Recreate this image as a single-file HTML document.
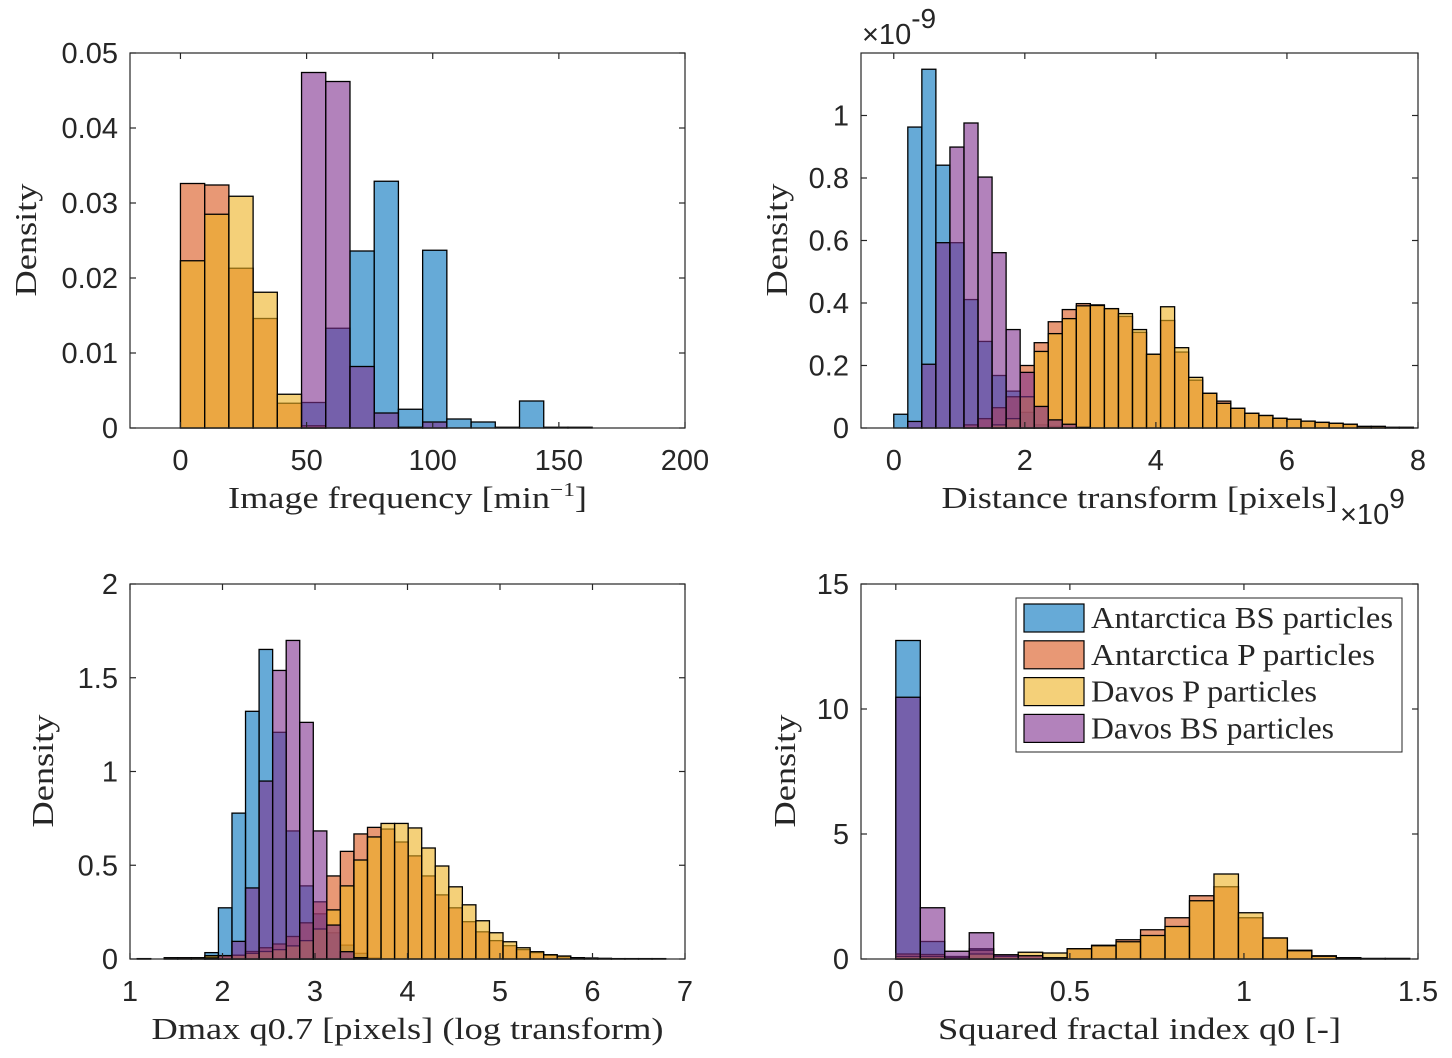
<!DOCTYPE html>
<html><head><meta charset="utf-8"><style>
body{margin:0;background:#fff;}
svg{display:block;}
.tk{font-family:"Liberation Sans",Arial,sans-serif;font-size:29px;fill:#262626;}
.lb{font-family:"Liberation Serif","DejaVu Serif",serif;font-size:31px;fill:#262626;}
</style></head><body>
<svg id="fig" width="1452" height="1058" viewBox="0 0 1452 1058" xmlns="http://www.w3.org/2000/svg"></svg>
<script>
// ---- Panel 1: Image frequency ----
const p1Edges = [0, 9.6];            // bin start, bin width
const p1ABS = [0,0,0,0,0,0.0034,0.0133,0.0236,0.0329,0.0025,0.0237,0.0012,0.0008,0.0001,0.0036,0.0001,0.0001];
const p1AP  = [0.0326,0.0324,0.0213,0.0146,0.0033,0.0003,0,0,0,0,0,0,0,0,0,0,0];
const p1DP  = [0.0223,0.0285,0.0309,0.0181,0.0045,0,0,0,0,0,0,0,0,0,0,0,0];
const p1DBS = [0,0,0,0,0,0.0474,0.0462,0.0082,0.002,0.0001,0.0008,0,0,0,0,0,0];
const p1XT = [0,50,100,150,200];
const p1YT = [0,0.01,0.02,0.03,0.04,0.05];
const p1YL = ["0","0.01","0.02","0.03","0.04","0.05"];
// ---- Panel 2: Distance transform (x in 1e9, y in 1e-9) ----
const p2Edges = [0, 0.2143];
const p2ABS = [0.044,0.963,1.148,0.841,0.593,0.411,0.277,0.168,0.118,0.05,0.01,0.005,0,0,0,0,0,0,0,0,0,0,0,0,0,0,0,0,0,0,0,0,0,0,0,0,0];
const p2AP  = [0,0,0,0,0,0.01,0.03,0.065,0.1,0.2,0.273,0.34,0.379,0.398,0.394,0.382,0.357,0.306,0.236,0.344,0.243,0.153,0.111,0.086,0.063,0.047,0.04,0.031,0.028,0.022,0.018,0.015,0.012,0.005,0.005,0.002,0.002];
const p2DP  = [0,0,0,0,0,0,0,0.01,0.03,0.1,0.245,0.302,0.35,0.391,0.392,0.382,0.366,0.315,0.236,0.388,0.257,0.162,0.111,0.079,0.063,0.047,0.04,0.031,0.028,0.022,0.018,0.015,0.012,0.005,0.005,0.002,0.002];
const p2DBS = [0,0.021,0.204,0.593,0.899,0.976,0.803,0.561,0.315,0.178,0.069,0.026,0.012,0.002,0,0,0,0,0,0,0,0,0,0,0,0,0,0,0,0,0,0,0,0,0,0,0];
const p2XT = [0,2,4,6,8];
const p2YT = [0,0.2,0.4,0.6,0.8,1];
const p2YL = ["0","0.2","0.4","0.6","0.8","1"];
// ---- Panel 3: Dmax q0.7 ----
const p3Edges = [1.077, 0.1465];
const p3ABS = [0,0,0,0,0,0.034,0.273,0.778,1.321,1.651,1.209,0.683,0.39,0.241,0.14,0.074,0.03,0.005,0,0,0,0,0,0,0,0,0,0,0,0,0,0,0,0,0,0,0,0,0];
const p3AP  = [0.002,0,0.004,0.004,0.004,0.01,0.018,0.02,0.04,0.06,0.08,0.12,0.193,0.305,0.443,0.574,0.667,0.702,0.693,0.624,0.55,0.443,0.342,0.273,0.199,0.145,0.098,0.071,0.05,0.034,0.02,0.012,0.007,0.005,0.003,0.002,0.002,0.002,0.002];
const p3DP  = [0.002,0,0.007,0.007,0.007,0.018,0.018,0.02,0.03,0.04,0.05,0.07,0.098,0.16,0.262,0.39,0.528,0.651,0.723,0.723,0.699,0.592,0.496,0.385,0.289,0.204,0.14,0.092,0.06,0.039,0.023,0.016,0.007,0.005,0.003,0.002,0.002,0.002,0.002];
const p3DBS = [0,0,0,0,0,0.005,0.018,0.094,0.379,0.949,1.539,1.699,1.262,0.683,0.181,0.039,0.007,0,0,0,0,0,0,0,0,0,0,0,0,0,0,0,0,0,0,0,0,0,0];
const p3XT = [1,2,3,4,5,6,7];
const p3YT = [0,0.5,1,1.5,2];
const p3YL = ["0","0.5","1","1.5","2"];
// ---- Panel 4: Squared fractal index q0 ----
const p4Edges = [0, 0.0703];
const p4ABS = [12.74,0.70,0.08,0.41,0,0,0,0,0,0,0,0,0,0,0,0,0,0,0,0,0];
const p4AP  = [0.2,0.18,0.1,0.35,0.16,0.13,0.05,0.41,0.55,0.77,1.17,1.65,2.53,2.89,1.65,0.84,0.35,0.13,0.05,0.02,0.02];
const p4DP  = [0.1,0.1,0.05,0.2,0.1,0.27,0.24,0.41,0.53,0.69,0.94,1.30,2.33,3.40,1.85,0.84,0.33,0.11,0.05,0.02,0.02];
const p4DBS = [10.47,2.05,0.31,1.05,0.17,0.13,0.05,0,0,0,0,0,0,0,0,0,0,0,0,0,0];
const p4XT = [0,0.5,1,1.5];
const p4YT = [0,5,10,15];
const p4YL = ["0","5","10","15"];

const colors = ["#0072BD","#D95319","#EDB120","#7E2F8E"];
const seriesNames = ["antarctica-bs","antarctica-p","davos-p","davos-bs"];
const legendLabels = ["Antarctica BS particles","Antarctica P particles","Davos P particles","Davos BS particles"];
const NS="http://www.w3.org/2000/svg";
const fig=document.getElementById('fig');
function mk(tag,attrs,parent){const e=document.createElementNS(NS,tag);for(const k in attrs)e.setAttribute(k,attrs[k]);(parent||fig).appendChild(e);return e;}

function panel(id,box,xr,yr,edges,series,xt,xtl,yt,ytl,xlabel,xlabelW,ylabelX){
  const g=mk('g',{});
  
  
  const sx=v=>box.x0+(v-xr[0])/(xr[1]-xr[0])*(box.x1-box.x0);
  const sy=v=>box.y1-(v-yr[0])/(yr[1]-yr[0])*(box.y1-box.y0);
  series.forEach((arr,si)=>{
    const sg=mk('g',{},g);
    
    
    arr.forEach((v,i)=>{
      if(v<=0)return;
      const a=edges[0]+i*edges[1], b=a+edges[1];
      const r=mk('rect',{x:sx(a),y:sy(v),width:sx(b)-sx(a),height:sy(0)-sy(v),fill:colors[si],'fill-opacity':0.6,stroke:'#000','stroke-width':1.3},sg);
      
      
    });
  });
  const frame=mk('rect',{x:box.x0,y:box.y0,width:box.x1-box.x0,height:box.y1-box.y0,fill:'none',stroke:'#262626','stroke-width':1.2},g);
  
  
  xt.forEach((v,i)=>{
    const x=sx(v);
    mk('line',{x1:x,y1:box.y1,x2:x,y2:box.y1-6,stroke:'#262626','stroke-width':1.2},g);
    mk('line',{x1:x,y1:box.y0,x2:x,y2:box.y0+6,stroke:'#262626','stroke-width':1.2},g);
    const t=mk('text',{x:x,y:box.y1+42,'text-anchor':'middle',class:'tk'},g);
    t.textContent=xtl[i];
    
    
  });
  yt.forEach((v,i)=>{
    const y=sy(v);
    mk('line',{x1:box.x0,y1:y,x2:box.x0+6,y2:y,stroke:'#262626','stroke-width':1.2},g);
    mk('line',{x1:box.x1,y1:y,x2:box.x1-6,y2:y,stroke:'#262626','stroke-width':1.2},g);
    const t=mk('text',{x:box.x0-12,y:y+10,'text-anchor':'end',class:'tk'},g);
    t.textContent=ytl[i];
    
    
  });
  const xl=mk('text',{x:(box.x0+box.x1)/2-xlabelW/2,y:box.y1+80,class:'lb',textLength:xlabelW,lengthAdjust:'spacingAndGlyphs'},g);
  xl.innerHTML=xlabel;
  
  
  const cy=(box.y0+box.y1)/2;
  const yl=mk('text',{x:ylabelX-56,y:cy,class:'lb',textLength:113,lengthAdjust:'spacingAndGlyphs',transform:`rotate(-90 ${ylabelX} ${cy})`},g);
  yl.textContent='Density';
  
  
}

panel('image-frequency-panel',{x0:130,x1:685,y0:53,y1:428},[-20,200],[0,0.05],p1Edges,[p1ABS,p1AP,p1DP,p1DBS],p1XT,p1XT.map(String),p1YT,p1YL,'Image frequency [min<tspan dy="-12" font-size="20">−1</tspan><tspan dy="12">]</tspan>',359,36);
panel('distance-transform-panel',{x0:861,x1:1418,y0:53,y1:428},[-0.5,8],[0,1.2],p2Edges,[p2ABS,p2AP,p2DP,p2DBS],p2XT,p2XT.map(String),p2YT,p2YL,'Distance transform [pixels]',396,787);
panel('dmax-panel',{x0:130,x1:685,y0:584,y1:959},[1,7],[0,2],p3Edges,[p3ABS,p3AP,p3DP,p3DBS],p3XT,p3XT.map(String),p3YT,p3YL,'Dmax q0.7 [pixels] (log transform)',512,53);
panel('fractal-index-panel',{x0:861,x1:1418,y0:584,y1:959},[-0.1,1.5],[0,15],p4Edges,[p4ABS,p4AP,p4DP,p4DBS],p4XT,["0","0.5","1","1.5"],p4YT,p4YL,'Squared fractal index q0 [-]',403,795);

// exponent labels
const e1=mk('text',{x:862,y:44,class:'tk','font-size':'35'});
e1.innerHTML='×10<tspan dy="-16" font-size="28">-9</tspan>';


const e2=mk('text',{x:1340,y:524,class:'tk','font-size':'35'});
e2.innerHTML='×10<tspan dy="-16" font-size="28">9</tspan>';



// legend
const lg=mk('g',{});


mk('rect',{x:1016,y:598,width:386,height:154,fill:'#fff',stroke:'#262626','stroke-width':1},lg);
const legendW=[302,284,226,243];
legendLabels.forEach((s,i)=>{
  const y=604+i*36.8;
  const e=mk('g',{},lg);
  
  
  mk('rect',{x:1024,y:y,width:60,height:28,fill:colors[i],'fill-opacity':0.6,stroke:'#000','stroke-width':1.2},e);
  const t=mk('text',{x:1091,y:y+24,class:'lb','font-size':'29',textLength:legendW[i],lengthAdjust:'spacingAndGlyphs'},e);
  t.textContent=s;
});
</script>
</body></html>
